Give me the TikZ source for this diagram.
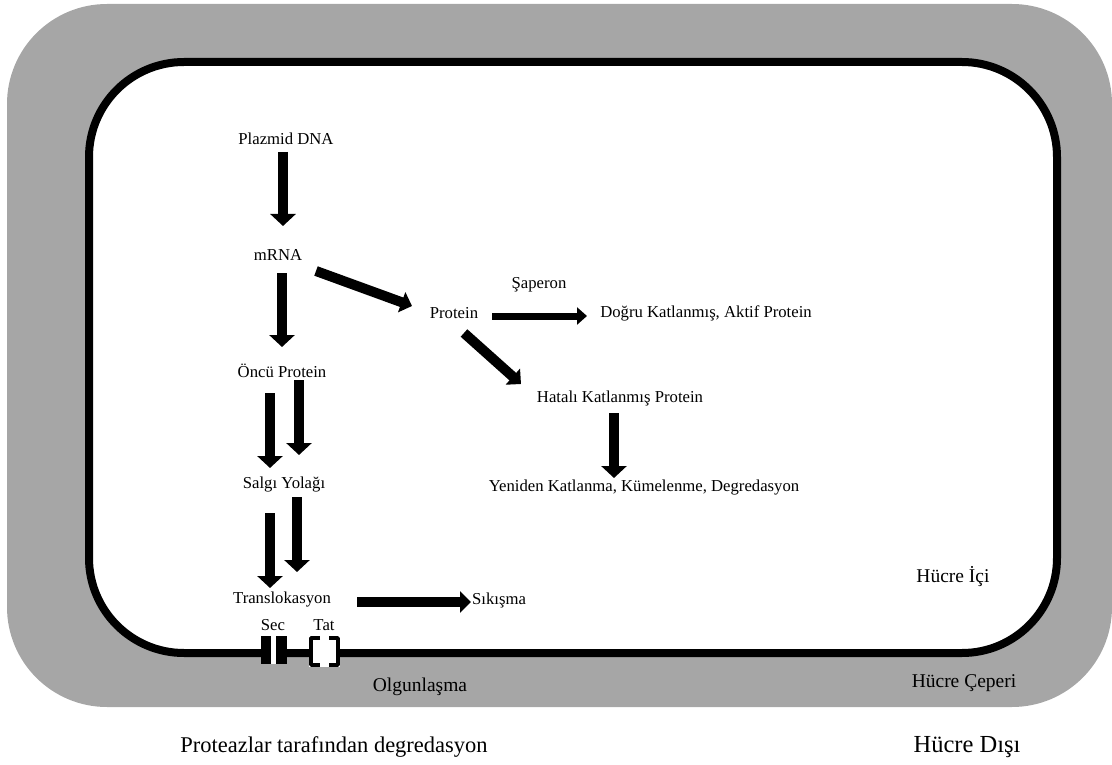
\documentclass[tikz,border=0pt]{standalone}
\usepackage{fontspec}
\setmainfont{Liberation Serif}
\usetikzlibrary{arrows.meta}
\definecolor{wallgray}{HTML}{A6A6A6}
\tikzset{
  fat/.style={line width=10pt, -{Triangle[width=25pt,length=12pt]}},
  thinfat/.style={line width=7pt, -{Triangle[width=17pt,length=10pt]}},
  midfat/.style={line width=10pt, -{Triangle[width=21pt,length=11pt]}},
  lbl/.style={inner sep=0pt, font=\fontsize{16.7}{20}\selectfont},
  mlbl/.style={inner sep=0pt, font=\fontsize{19.5}{23}\selectfont},
  blbl/.style={inner sep=0pt, font=\fontsize{22.5}{27}\selectfont},
  dlbl/.style={inner sep=0pt, font=\fontsize{24.5}{29}\selectfont},
}
\begin{document}
\begin{tikzpicture}[x=1pt,y=-1pt]
\useasboundingbox (0,0) rectangle (1112,765);
% cell wall
\fill[wallgray, rounded corners=100pt] (7,4) rectangle (1112,707);
% membrane
\filldraw[fill=white, draw=black, line width=8pt, rounded corners=95pt] (89,62) rectangle (1057,653);
% Sec channel
\fill[white] (270,636) rectangle (277,664);
\fill[black] (261,636) rectangle (271,664);
\fill[black] (276,636) rectangle (287,664);
% Tat channel
\fill[white] (309,636) rectangle (340,667);
\draw[line width=3.5pt, line join=round] (320,638) -- (311,638) -- (311,665) -- (320,665);
\draw[line width=3.5pt, line join=round] (329,638) -- (338,638) -- (338,665) -- (329,665);

% labels
\node[lbl] (pd) at (286,139) {Plazmid DNA};
\node[lbl] (mrna) at (278,255) {mRNA};
\node[lbl] (oncu) at (282,371) {Öncü Protein};
\node[lbl] (salgi) at (284,485) {Salgı Yolağı};
\node[lbl] (trans) at (282,600) {Translokasyon};
\node[lbl] (sik) at (499,600) {Sıkışma};
\node[lbl] (prot) at (454,313) {Protein};
\node[lbl] (sap) at (539,285) {Şaperon};
\node[lbl] (dogru) at (706,313) {Doğru Katlanmış, Aktif Protein};
\node[lbl] (hatali) at (620,398) {Hatalı Katlanmış Protein};
\node[lbl] (yeniden) at (644,488) {Yeniden Katlanma, Kümelenme, Degredasyon};
\node[lbl] (sec) at (273,625) {Sec};
\node[lbl] (tat) at (324,625) {Tat};
\node[mlbl] (olg) at (420,687) {Olgunlaşma};
\node[mlbl] (ici) at (953,577) {Hücre İçi};
\node[mlbl] (ceperi) at (964,683) {Hücre Çeperi};
\node[dlbl] (disi) at (967,747) {Hücre Dışı};
\node[blbl] (deg) at (334,747) {Proteazlar tarafından degredasyon};

% arrow end points
\coordinate (a1s) at (283,152); \coordinate (a1e) at (283,226);
\coordinate (a2s) at (282,273); \coordinate (a2e) at (282,347);
\coordinate (a3s) at (316,271); \coordinate (a3e) at (412,306);
\coordinate (a4s) at (492,316); \coordinate (a4e) at (587,316);
\coordinate (a5s) at (464,333); \coordinate (a5e) at (521,384);
\coordinate (a6s) at (614,413); \coordinate (a6e) at (614,478);
\coordinate (a7s) at (270,393); \coordinate (a7e) at (270,468);
\coordinate (a8s) at (299,380); \coordinate (a8e) at (299,455);
\coordinate (a9s) at (270,513); \coordinate (a9e) at (270,588);
\coordinate (a10s) at (297,497); \coordinate (a10e) at (297,572);
\coordinate (a11s) at (357,602); \coordinate (a11e) at (471,602);

\draw[fat] (a1s) -- (a1e);
\draw[fat] (a2s) -- (a2e);
\draw[midfat] (a3s) -- (a3e);
\draw[thinfat] (a4s) -- (a4e);
\draw[midfat] (a5s) -- (a5e);
\draw[fat] (a6s) -- (a6e);
\draw[fat] (a7s) -- (a7e);
\draw[fat] (a8s) -- (a8e);
\draw[fat] (a9s) -- (a9e);
\draw[fat] (a10s) -- (a10e);
\draw[midfat] (a11s) -- (a11e);
\end{tikzpicture}
\end{document}
